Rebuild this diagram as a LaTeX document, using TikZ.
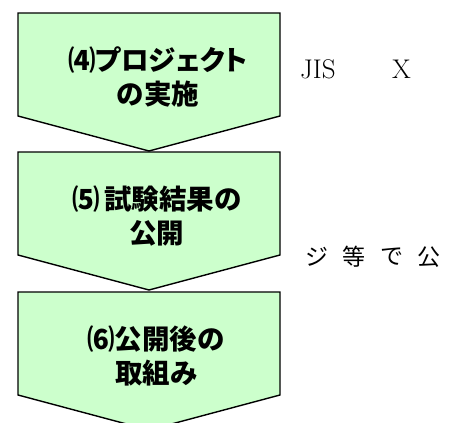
\documentclass[tikz,border=0pt]{standalone}
\usepackage{fontspec}
\newfontfamily\jp{Noto Sans CJK JP}
\newfontfamily\jpp{Noto Sans CJK JP}[RawFeature=+palt]
\tikzset{
  chev/.style={draw=black, line width=1.4pt, line join=miter},
  lbl/.style={font=\jpp\bfseries\fontsize{27.5}{34}\selectfont, align=center, inner sep=0pt},
  side/.style={font=\fontsize{27}{30}\selectfont, inner sep=0pt, anchor=base west},
  sidejp/.style={font=\jp\fontsize{23}{26}\selectfont, inner sep=0pt, anchor=center}
}
\definecolor{boxgreen}{HTML}{CCFFCC}
\begin{document}
\begin{tikzpicture}[x=1pt,y=-1pt]
\useasboundingbox (0,0) rectangle (451,423);
\foreach \o in {0,139,279}{
  \path[chev, fill=boxgreen] (18,13+\o) -- (280,13+\o) -- (280,116+\o) -- (149,151+\o) -- (18,116+\o) -- cycle;
}
\node[lbl] (t4) at (158,77) {⑷プロジェクト\\の実施};
\node[lbl] (t5) at (157,216) {⑸\kern4pt 試験結果の\\公開};
\node[lbl] (t6) at (156,356) {⑹公開後の\\取組み};
\node[side] (jis) at (300,78) {JIS};
\node[side] (x) at (392,78) {X};
\node[sidejp] (j1) at (317,257) {ジ};
\node[sidejp] (j2) at (354,257) {等};
\node[sidejp] (j3) at (392,257) {で};
\node[sidejp] (j4) at (429,257) {公};
\end{tikzpicture}
\end{document}
